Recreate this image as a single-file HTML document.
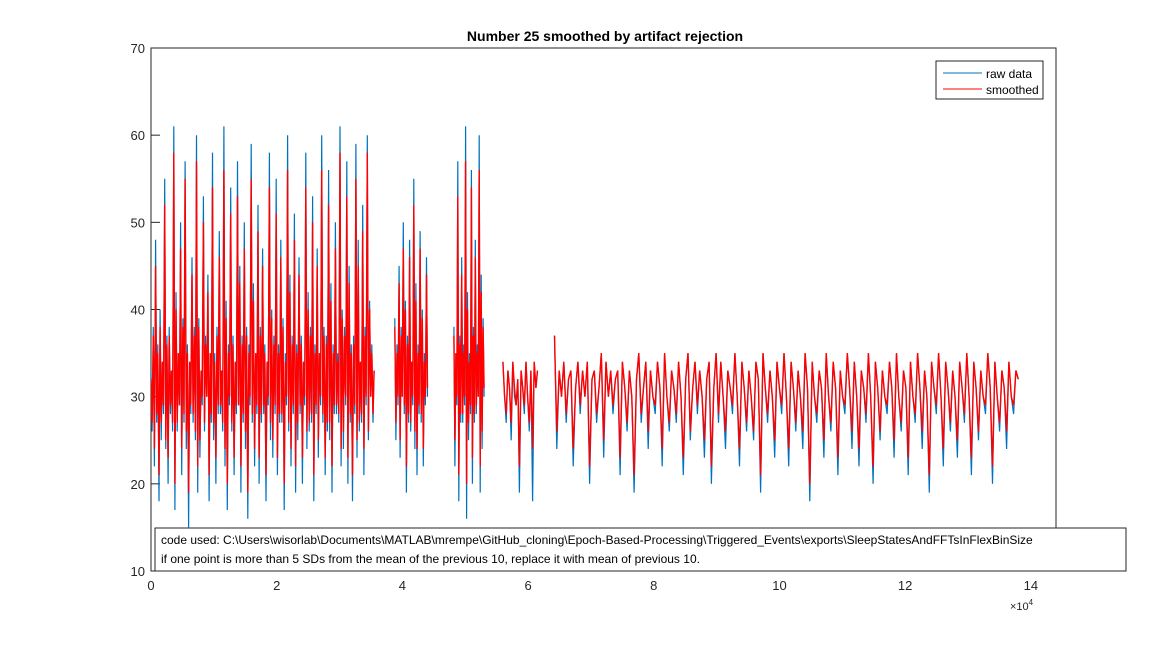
<!DOCTYPE html>
<html><head><meta charset="utf-8"><style>
body{margin:0;background:#fff;font-family:"Liberation Sans",Arial,sans-serif}
svg text{font-family:"Liberation Sans",Arial,sans-serif}
</style></head><body>
<svg id="chart" width="1168" height="641">
<rect x="0" y="0" width="1168" height="641" fill="#fff"/>
<text x="605" y="41" text-anchor="middle" font-size="14" font-weight="bold" fill="#000">Number 25 smoothed by artifact rejection</text>
<rect x="151" y="48" width="905" height="523" fill="#fff" stroke="#262626" stroke-width="1"/>
<g id="ticks"></g>
<g id="series" clip-path="url(#clip)"></g>
<defs><clipPath id="clip"><rect x="151" y="48" width="905" height="523"/></clipPath></defs>
<g>
<rect x="936" y="61" width="107" height="38" fill="#fff" stroke="#262626"/>
<line x1="943" y1="73" x2="982" y2="73" stroke="#0072BD"/>
<text x="986" y="78" font-size="12">raw data</text>
<line x1="943" y1="89" x2="982" y2="89" stroke="#ff0000"/>
<text x="986" y="94" font-size="12">smoothed</text>
</g>
<g>
<rect x="155" y="528" width="971" height="43" fill="#fff" stroke="#262626"/>
<text x="161" y="544" font-size="12">code used: C:\Users\wisorlab\Documents\MATLAB\mrempe\GitHub_cloning\Epoch-Based-Processing\Triggered_Events\exports\SleepStatesAndFFTsInFlexBinSize</text>
<text x="161" y="563" font-size="12">if one point is more than 5 SDs from the mean of the previous 10, replace it with mean of previous 10.</text>
</g>
<text x="1010" y="610" font-size="11" fill="#262626">×10<tspan font-size="8" dy="-5">4</tspan></text>
</svg>
<script>
const xTicks=[0,2,4,6,8,10,12,14];
const yTicks=[10,20,30,40,50,60,70];
const segStart=[0.0,3.88,4.82,5.6,6.42];
const segEnd=[3.55,4.4,5.3,6.15,13.8];
const raw1=[33,26,38,22,48,27,36,18,40,25,34,28,55,24,37,20,38,28,33,26,61,17,42,26,35,29,50,21,39,27,57,24,36,15,34,28,46,27,38,25,60,19,39,23,33,29,53,26,37,30,44,18,35,27,58,25,35,20,38,28,49,28,33,26,61,22,41,17,36,29,54,26,37,21,34,28,57,29,45,19,37,27,50,24,38,16,36,29,59,27,43,22,35,28,52,20,38,27,47,28,36,18,34,29,58,25,40,23,37,28,55,21,36,27,48,27,39,17,35,29,60,26,44,22,37,28,51,19,36,25,46,28,37,20,34,29,58,24,42,26,38,27,53,18,36,28,47,23,35,29,60,27,38,21,37,26,56,25,43,19,36,28,50,28,35,27,61,22,40,24,38,29,57,20,45,27,36,18,37,28,59,23,48,26,34,27,52,21,38,29,60,25,41,30,36,27,33];
const smooth1=[32,27,37,24,45,28,35,21,38,27,34,29,52,25,36,23,37,29,33,27,58,20,40,27,35,29,47,24,38,28,55,26,35,19,34,29,44,28,37,26,57,22,38,25,33,30,50,27,36,30,42,21,35,28,54,27,34,23,37,29,46,29,33,27,56,24,39,20,35,30,51,27,36,23,34,29,53,29,43,22,36,28,47,26,37,19,35,30,55,28,41,24,35,29,49,23,37,28,45,29,35,21,34,30,54,27,39,25,36,29,51,23,35,28,46,28,38,20,34,30,56,27,42,24,36,29,48,22,35,27,44,29,36,23,34,30,54,26,40,27,37,28,50,21,35,29,45,25,35,30,56,28,37,23,36,27,52,27,41,22,35,29,47,29,34,28,58,24,39,26,37,30,53,23,43,28,35,21,36,29,55,25,45,27,34,28,49,24,37,30,58,26,40,30,35,28,33];
const raw2=[39,25,36,29,45,23,38,30,50,28,41,19,37,27,48,26,34,29,55,24,43,21,36,28,49,27,40,22,35,29,46,30];
const smooth2=[38,27,35,30,43,25,37,30,47,29,40,22,36,28,46,27,34,30,52,26,41,24,35,29,47,28,39,24,34,30,44,31];
const raw3=[38,22,35,29,57,18,37,27,46,27,36,29,61,16,42,25,35,28,56,20,38,27,48,28,36,30,60,19,44,24,39,30];
const smooth3=[37,25,35,30,53,21,36,28,44,28,35,30,57,20,40,27,34,29,54,23,37,28,46,29,35,30,56,22,42,26,38,31];
const raw4=[34,30,27,33,31,25,34,30,29,32,19,33,31,28,34,30,26,33,18,34,31,33];
const smooth4=[34,30,28,33,31,27,34,31,29,32,22,33,31,29,34,30,27,33,24,34,31,33];
const raw5=[37,24,33,30,34,27,32,33,22,31,34,28,33,30,34,20,32,33,27,31,35,23,34,30,33,28,32,33,21,34,31,26,33,30,19,32,35,27,31,34,24,33,30,28,34,31,22,35,30,26,33,31,27,34,30,21,32,35,25,31,34,28,33,30,23,32,34,20,31,35,27,34,30,24,33,31,28,35,30,22,34,31,26,33,30,25,34,32,19,35,31,27,33,30,23,34,31,28,35,30,22,34,31,26,33,30,24,35,31,18,34,30,27,33,31,23,35,30,26,34,31,21,33,30,28,35,31,24,34,30,22,33,31,27,35,30,20,34,31,25,33,30,28,34,31,23,35,30,26,33,31,21,34,30,27,35,31,24,33,30,19,34,31,28,35,30,22,34,31,26,33,30,23,34,31,27,35,30,21,34,31,25,33,30,28,35,31,20,34,30,26,33,31,24,34,30,28,33,32];
const smooth5=[37,26,33,30,34,28,32,33,24,31,34,29,33,30,34,22,32,33,28,31,35,25,34,30,33,29,32,33,23,34,31,27,33,30,21,32,35,28,31,34,26,33,30,29,34,31,24,35,30,27,33,31,28,34,30,23,32,35,26,31,34,29,33,30,25,32,34,22,31,35,28,34,30,26,33,31,29,35,30,24,34,31,27,33,30,26,34,32,21,35,31,28,33,30,25,34,31,29,35,30,24,34,31,27,33,30,26,35,31,20,34,30,28,33,31,25,35,30,27,34,31,23,33,30,29,35,31,26,34,30,24,33,31,28,35,30,22,34,31,26,33,30,29,34,31,25,35,30,27,33,31,23,34,30,28,35,31,26,33,30,21,34,31,29,35,30,24,34,31,27,33,30,25,34,31,28,35,30,23,34,31,26,33,30,29,35,31,22,34,30,27,33,31,26,34,30,29,33,32];
const L=151,R=1056,T=48,B=571,XMAX=14.4,YMIN=10,YMAX=70;
const xs=v=>L+(v/XMAX)*(R-L);
const ys=v=>B-(v-YMIN)/(YMAX-YMIN)*(B-T);
const NS="http://www.w3.org/2000/svg";
const tg=document.getElementById('ticks');
xTicks.forEach(t=>{
  const x=xs(t);
  const l1=document.createElementNS(NS,'line');
  l1.setAttribute('x1',x);l1.setAttribute('x2',x);l1.setAttribute('y1',B);l1.setAttribute('y2',B-9);l1.setAttribute('stroke','#262626');
  
  
  tg.appendChild(l1);
  const tx=document.createElementNS(NS,'text');
  tx.setAttribute('x',x);tx.setAttribute('y',B+19);tx.setAttribute('text-anchor','middle');tx.setAttribute('font-size','13');tx.setAttribute('fill','#262626');
  tx.textContent=t;
  
  
  tg.appendChild(tx);
});
yTicks.forEach(t=>{
  const y=ys(t);
  const l1=document.createElementNS(NS,'line');
  l1.setAttribute('x1',L);l1.setAttribute('x2',L+9);l1.setAttribute('y1',y);l1.setAttribute('y2',y);l1.setAttribute('stroke','#262626');
  
  
  tg.appendChild(l1);
  const tx=document.createElementNS(NS,'text');
  tx.setAttribute('x',L-6);tx.setAttribute('y',y+5);tx.setAttribute('text-anchor','end');tx.setAttribute('font-size','13');tx.setAttribute('fill','#262626');
  tx.textContent=t;
  
  
  tg.appendChild(tx);
});
const sg=document.getElementById('series');
function draw(vals,i,color,name,w){
  const n=vals.length,a=segStart[i],b=segEnd[i];
  const pts=vals.map((v,k)=>xs(a+(b-a)*k/(n-1)).toFixed(1)+','+ys(v).toFixed(1)).join(' ');
  const p=document.createElementNS(NS,'polyline');
  p.setAttribute('points',pts);p.setAttribute('fill','none');p.setAttribute('stroke',color);p.setAttribute('stroke-width',w);
  
  
  sg.appendChild(p);
}
const raws=[raw1,raw2,raw3,raw4,raw5],sms=[smooth1,smooth2,smooth3,smooth4,smooth5];
raws.forEach((r,i)=>draw(r,i,'#0072BD','raw-data-line',1.2));
sms.forEach((s,i)=>draw(s,i,'#ff0000','smoothed-line',1.4));
</script>
</body></html>
